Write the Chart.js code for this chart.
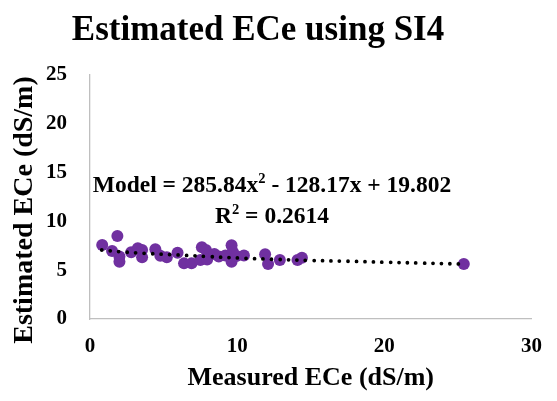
<!DOCTYPE html>
<html>
<head>
<meta charset="utf-8">
<script src="https://cdn.jsdelivr.net/npm/chart.js@4/dist/chart.umd.min.js"></script>
<style>
  html, body { margin: 0; padding: 0; background: #ffffff; }
  #wrap { width: 557px; height: 401px; }
</style>
</head>
<body>
<div id="wrap"><canvas id="c" width="557" height="401"></canvas></div>
<script>
const chartTitle = 'Estimated ECe using SI4';
const xTitle = 'Measured ECe (dS/m)';
const yTitle = 'Estimated ECe (dS/m)';
const measured  = [0.83, 1.86, 1.5, 2.0, 2.0, 2.8, 3.25, 3.54, 3.54, 4.44, 4.78, 5.22, 5.95, 6.39, 6.9, 7.6, 7.88, 7.5, 7.96, 8.45, 8.75, 9.2, 9.62, 9.7, 9.62, 9.95, 10.46, 11.9, 12.1, 12.9, 14.1, 14.4, 25.4];
const estimated = [7.58, 8.5, 6.97, 6.4, 5.87, 6.83, 7.24, 7.07, 6.32, 7.14, 6.49, 6.32, 6.78, 5.7, 5.7, 7.35, 7.07, 6.05, 6.1, 6.65, 6.4, 6.5, 7.55, 6.9, 5.87, 6.45, 6.5, 6.63, 5.64, 6.05, 6.05, 6.28, 5.64];
const trendX = [0.8, 2, 3.7, 6, 8, 10.6, 12.4, 15, 17.5, 20, 22.5, 25.1];
const trendY = [7.07, 6.9, 6.73, 6.56, 6.4, 6.22, 6.12, 6.0, 5.92, 5.82, 5.73, 5.64];
const xRange = [0, 30], xStep = 10;
const yRange = [0, 25], yStep = 5;
const eqParts = [{t: 'Model = 285.84x'}, {t: '2', sup: true}, {t: ' - 128.17x + 19.802'}];
const r2Parts = [{t: 'R'}, {t: '2', sup: true}, {t: ' = 0.2614'}];

const serif = "'Liberation Serif', 'Times New Roman', serif";

const textPlugin = {
  id: 'textPlugin',
  afterDraw(chart) {
    const ctx = chart.ctx;
    const size = 23.5;
    function drawParts(parts, cx, baseline) {
      const main = 'bold ' + size + 'px ' + serif;
      const sup = 'bold ' + (size * 0.62) + 'px ' + serif;
      let total = 0;
      parts.forEach(p => { ctx.font = p.sup ? sup : main; total += ctx.measureText(p.t).width; });
      let x = cx - total / 2;
      ctx.fillStyle = '#000';
      ctx.textAlign = 'left';
      ctx.textBaseline = 'alphabetic';
      parts.forEach(p => {
        ctx.font = p.sup ? sup : main;
        ctx.fillText(p.t, x, p.sup ? baseline - size * 0.38 : baseline);
        x += ctx.measureText(p.t).width;
      });
    }
    ctx.save();
    // chart title
    ctx.fillStyle = '#000';
    ctx.font = 'bold 35px ' + serif;
    ctx.textAlign = 'center';
    ctx.textBaseline = 'alphabetic';
    ctx.fillText(chartTitle, 258, 40);
    // y axis title
    ctx.save();
    ctx.translate(25, 210);
    ctx.rotate(-Math.PI / 2);
    ctx.font = 'bold 28px ' + serif;
    ctx.textBaseline = 'middle';
    ctx.fillText(yTitle, 0, 0);
    ctx.restore();
    // regression annotation
    drawParts(eqParts, 272, 192);
    drawParts(r2Parts, 272, 223);
    ctx.restore();
  }
};

new Chart(document.getElementById('c'), {
  type: 'scatter',
  data: {
    datasets: [
      {
        label: 'Trend',
        type: 'line',
        data: trendX.map((x, i) => ({x, y: trendY[i]})),
        borderColor: '#000000',
        borderWidth: 3.8,
        borderDash: [0, 8.5],
        borderCapStyle: 'round',
        pointRadius: 0,
        tension: 0.4,
        fill: false,
        order: 0
      },
      {
        label: 'Data',
        data: measured.map((x, i) => ({x, y: estimated[i]})),
        backgroundColor: '#7030A0',
        borderColor: '#7030A0',
        pointRadius: 6,
        pointBorderWidth: 0,
        order: 1
      }
    ]
  },
  options: {
    responsive: false,
    animation: false,
    devicePixelRatio: 1,
    layout: { padding: { left: 0, right: 21, top: 75, bottom: 0 } },
    plugins: {
      legend: { display: false },
      tooltip: { enabled: false },
      title: { display: false }
    },
    scales: {
      x: {
        type: 'linear',
        min: xRange[0], max: xRange[1],
        ticks: { stepSize: xStep, color: '#000', padding: 15, font: { family: serif, size: 21, weight: 'bold', lineHeight: 1.2 } },
        grid: { display: false, drawTicks: false },
        border: { color: '#bfbfbf', width: 1.3 },
        title: { display: true, text: xTitle, color: '#000', font: { family: serif, size: 26, weight: 'bold', lineHeight: 1.2 }, padding: { top: 0, bottom: 7 } },
        afterFit(scale) { scale.height = 82; }
      },
      y: {
        type: 'linear',
        min: yRange[0], max: yRange[1],
        ticks: { stepSize: yStep, color: '#000', padding: 23, font: { family: serif, size: 21, weight: 'bold', lineHeight: 1.2 } },
        grid: { display: false, drawTicks: false },
        border: { color: '#bfbfbf', width: 1.3 },
        title: { display: false },
        afterFit(scale) { scale.width = 90; }
      }
    }
  },
  plugins: [textPlugin]
});
</script>
</body>
</html>
